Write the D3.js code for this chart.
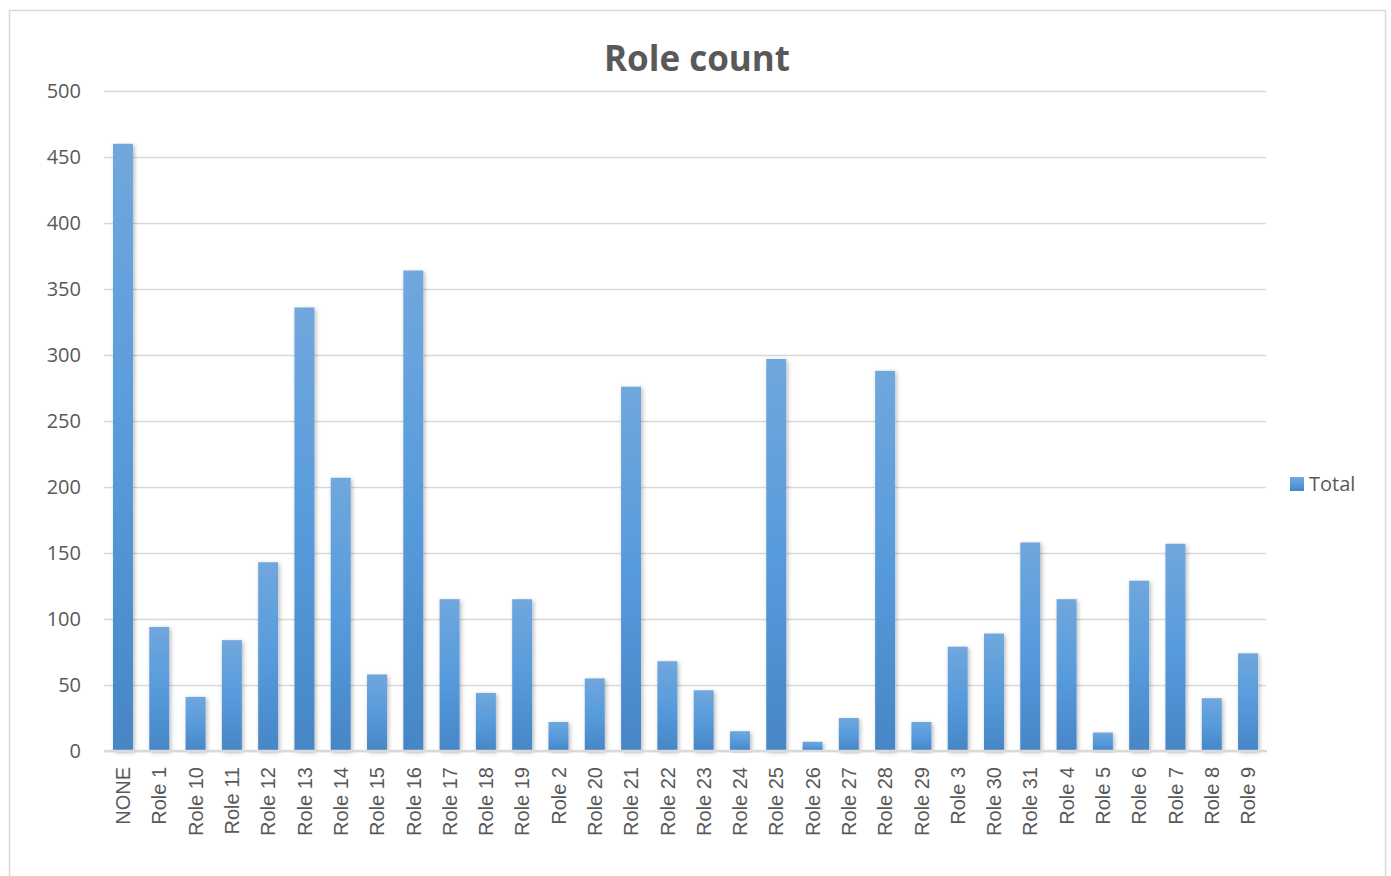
<!DOCTYPE html>
<html>
<head>
<meta charset="utf-8">
<script src="https://cdn.jsdelivr.net/npm/d3@7"></script>
<style>
  html, body { margin: 0; padding: 0; background: #fff; }
  svg { display: block; }
</style>
</head>
<body>
<svg id="chart" width="1391" height="876"></svg>
<script>
// Role counts (category order as listed in the pivot)
const categories = ["NONE", "Role 1", "Role 10", "Role 11", "Role 12", "Role 13", "Role 14", "Role 15",
  "Role 16", "Role 17", "Role 18", "Role 19", "Role 2", "Role 20", "Role 21", "Role 22", "Role 23",
  "Role 24", "Role 25", "Role 26", "Role 27", "Role 28", "Role 29", "Role 3", "Role 30", "Role 31",
  "Role 4", "Role 5", "Role 6", "Role 7", "Role 8", "Role 9"];
const totals = [460, 94, 41, 84, 143, 336, 207, 58,
  364, 115, 44, 115, 22, 55, 276, 68, 46,
  15, 297, 7, 25, 288, 22, 79, 89, 158,
  115, 14, 129, 157, 40, 74];
const yTicks = [0, 50, 100, 150, 200, 250, 300, 350, 400, 450, 500];
const seriesName = "Total";
const titleText = "Role count";

const svg = d3.select("#chart");
const plot = { left: 105, right: 1266, top: 91, bottom: 751 };
const textColor = "#595959";
const gridColor = "#d9d9d9";

// chart frame
svg.append("rect")
  .attr("x", 9.5).attr("y", 10.5)
  .attr("width", 1376).attr("height", 880)
  .attr("fill", "#fff").attr("stroke", gridColor).attr("stroke-width", 1.5);

const defs = svg.append("defs");
const grad = defs.append("linearGradient")
  .attr("id", "barFill").attr("x1", 0).attr("y1", 0).attr("x2", 0).attr("y2", 1);
grad.append("stop").attr("offset", "0%").attr("stop-color", "#70a7dd");
grad.append("stop").attr("offset", "50%").attr("stop-color", "#579bdc");
grad.append("stop").attr("offset", "100%").attr("stop-color", "#4686c6");

const shadow = defs.append("filter").attr("id", "barShadow")
  .attr("x", "-50%").attr("y", "-10%").attr("width", "200%").attr("height", "120%");
shadow.append("feDropShadow")
  .attr("dx", 1.5).attr("dy", 1.5).attr("stdDeviation", 2.2)
  .attr("flood-color", "#000").attr("flood-opacity", 0.28);

const x = d3.scaleBand()
  .domain(categories)
  .range([plot.left, plot.right])
  .paddingInner(0.45)
  .paddingOuter(0.22);

const y = d3.scaleLinear()
  .domain([0, 500])
  .range([plot.bottom, plot.top]);

// horizontal gridlines + y labels
const yAxis = d3.axisLeft(y)
  .tickValues(yTicks)
  .tickSize(-(plot.right - plot.left + 1))
  .tickPadding(23);

const gy = svg.append("g")
  .attr("transform", `translate(${plot.left - 1},0)`)
  .call(yAxis);
gy.select(".domain").remove();
gy.selectAll(".tick line")
  .attr("stroke", gridColor).attr("stroke-width", 1.5);
gy.selectAll(".tick text")
  .attr("fill", textColor)
  .attr("font-family", "'Open Sans', sans-serif")
  .attr("font-size", 20);

// bars
svg.append("g")
  .selectAll("rect")
  .data(categories.map((c, i) => ({ c, v: totals[i] })))
  .join("rect")
  .attr("x", d => x(d.c))
  .attr("y", d => y(d.v))
  .attr("width", x.bandwidth())
  .attr("height", d => y(0) - y(d.v))
  .attr("fill", "url(#barFill)")
  .attr("filter", "url(#barShadow)");

// category axis
const xAxis = d3.axisBottom(x).tickSize(0).tickPadding(0);
const gx = svg.append("g")
  .attr("transform", `translate(0,${plot.bottom})`)
  .call(xAxis);
gx.select(".domain")
  .attr("d", `M${plot.left - 1},0H${plot.right + 1}`)
  .attr("stroke", gridColor).attr("stroke-width", 2.5);
gx.selectAll(".tick text")
  .attr("fill", textColor)
  .attr("font-family", "'Liberation Sans', Arial, sans-serif")
  .attr("font-size", 20)
  .attr("text-anchor", "end")
  .attr("transform", "translate(0,16) rotate(-90)")
  .attr("x", 0)
  .attr("y", 0)
  .attr("dy", "0.36em");

// title
svg.append("text")
  .attr("x", 697).attr("y", 71)
  .attr("text-anchor", "middle")
  .attr("fill", textColor)
  .attr("font-family", "'Open Sans', sans-serif")
  .attr("font-weight", "bold")
  .attr("font-size", 35)
  .text(titleText);

// legend
const lg = svg.append("g").attr("transform", "translate(1290,477)");
lg.append("rect").attr("width", 14).attr("height", 14).attr("fill", "url(#barFill)");
lg.append("text")
  .attr("x", 19).attr("y", 7).attr("dy", "0.36em")
  .attr("fill", textColor)
  .attr("font-family", "'Open Sans', sans-serif")
  .attr("font-size", 20)
  .text(seriesName);
</script>
</body>
</html>
